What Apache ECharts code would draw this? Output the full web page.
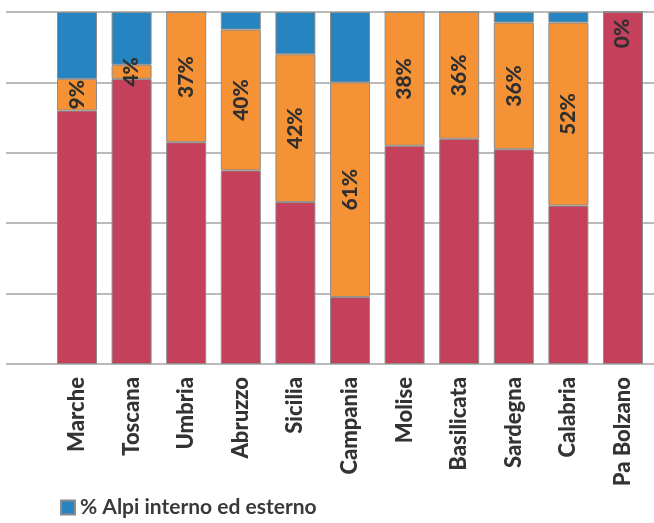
<!DOCTYPE html>
<html>
<head>
<meta charset="utf-8">
<script src="https://cdn.jsdelivr.net/npm/echarts@6/dist/echarts.min.js"></script>
<style>
  html, body { margin: 0; padding: 0; background: #ffffff; }
  #chart { width: 654px; height: 523px; }
</style>
</head>
<body>
<div id="chart"></div>
<script>
// Regions shown along the category axis
const categories = ['Marche', 'Toscana', 'Umbria', 'Abruzzo', 'Sicilia', 'Campania',
  'Molise', 'Basilicata', 'Sardegna', 'Calabria', 'Pa Bolzano'];

// Shares (%) stacked from bottom to top
const istituzionale = [72, 81, 63, 55, 46, 19, 62, 64, 61, 45, 100];
const alpiAllargata = [9, 4, 37, 40, 42, 61, 38, 36, 36, 52, 0];
const alpiInternoEsterno = [19, 15, 0, 5, 12, 20, 0, 0, 3, 3, 0];

// Y axis ticks (percent scale)
const yMin = 0, yMax = 100, yStep = 20;

const COLORS = { red: '#c5405a', orange: '#f49235', blue: '#2685c1' };
const BORDER = { borderColor: '#8c8c8c', borderWidth: 1 };
const FONT = 'Lato, "Open Sans", "DejaVu Sans", sans-serif';

const orangeData = alpiAllargata.map(function (v) {
  if (v === 0) {
    // zero-height segment: keep its label inside the top of the bar
    return { value: v, label: { position: [20, 22], align: 'center', verticalAlign: 'middle' } };
  }
  return v;
});

const chart = echarts.init(document.getElementById('chart'), null, { renderer: 'canvas' });

chart.setOption({
  animation: false,
  backgroundColor: '#ffffff',
  grid: [
    { left: 49.7, right: 3.7, top: 12, bottom: 159, containLabel: false },
    { left: 6, right: 0, top: 12, bottom: 159, containLabel: false }
  ],
  legend: {
    data: ['% Alpi interno ed esterno'],
    left: 55,
    top: 492,
    itemWidth: 14,
    itemHeight: 14,
    itemGap: 10,
    icon: 'rect',
    textStyle: { fontFamily: FONT, fontSize: 21, fontWeight: 'bold', color: '#3a3a3a' }
  },
  xAxis: [
    {
      type: 'category',
      gridIndex: 0,
      data: categories,
      axisLine: { show: false },
      axisTick: { show: false },
      axisLabel: {
        rotate: 90,
        margin: 13,
        interval: 0,
        fontFamily: FONT,
        fontSize: 22,
        fontWeight: 900,
        color: '#333333'
      }
    },
    {
      type: 'value',
      gridIndex: 1,
      show: false,
      min: 0,
      max: 1
    }
  ],
  yAxis: [
    {
      type: 'value',
      gridIndex: 0,
      min: yMin, max: yMax, interval: yStep,
      axisLine: { show: false },
      axisTick: { show: false },
      axisLabel: { show: false },
      splitLine: { show: false }
    },
    {
      type: 'value',
      gridIndex: 1,
      min: yMin, max: yMax, interval: yStep,
      axisLine: { show: false },
      axisTick: { show: false },
      axisLabel: { show: false },
      splitLine: { show: true, lineStyle: { color: '#a3a3a3', width: 1.5 } }
    }
  ],
  series: [
    {
      name: '% Istituzionale',
      type: 'bar',
      stack: 'quota',
      barWidth: 40,
      data: istituzionale,
      itemStyle: Object.assign({ color: COLORS.red }, BORDER)
    },
    {
      name: '% Alpi allargata',
      type: 'bar',
      stack: 'quota',
      barWidth: 40,
      data: orangeData,
      itemStyle: Object.assign({ color: COLORS.orange }, BORDER),
      label: {
        show: true,
        position: 'inside',
        rotate: 90,
        formatter: '{c}%',
        fontFamily: FONT,
        fontSize: 21,
        fontWeight: 900,
        color: '#2f2f2f'
      }
    },
    {
      name: '% Alpi interno ed esterno',
      type: 'bar',
      stack: 'quota',
      barWidth: 40,
      data: alpiInternoEsterno,
      itemStyle: Object.assign({ color: COLORS.blue }, BORDER)
    }
  ]
});
</script>
</body>
</html>
